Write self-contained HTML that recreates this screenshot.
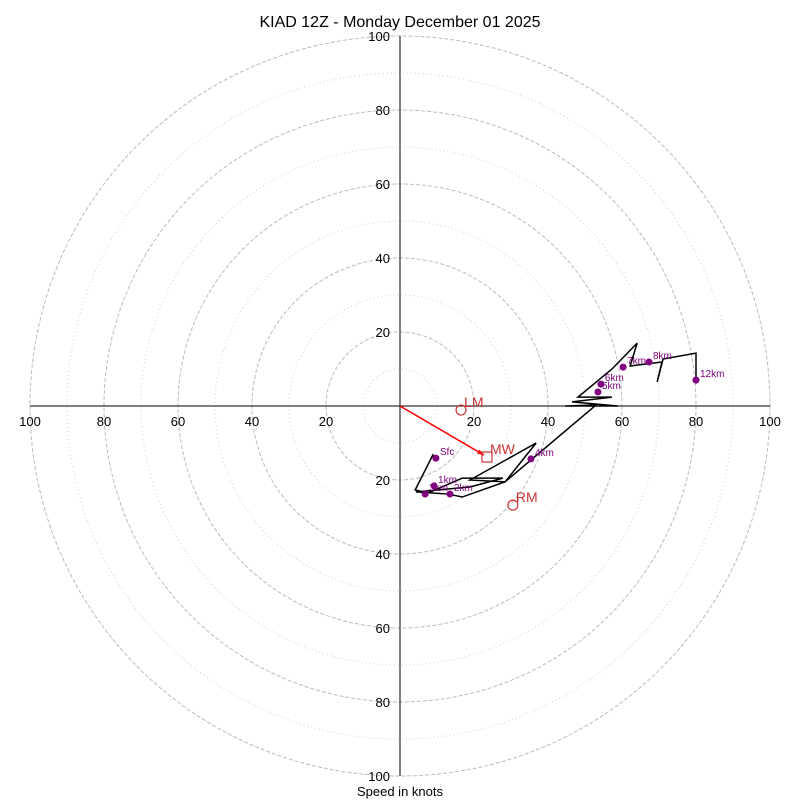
<!DOCTYPE html>
<html><head><meta charset="utf-8"><style>
body{margin:0;background:#fff}
svg{display:block;font-family:"Liberation Sans","DejaVu Sans",sans-serif}
</style></head><body>
<svg id="chart" width="800" height="800" viewBox="0 0 800 800">
<text x="400" y="27" font-size="16" text-anchor="middle">KIAD 12Z - Monday December 01 2025</text>
<g id="rings"></g>
<g id="axes"></g>
<g id="trace"></g>
<g id="marks"></g>
<text x="400" y="796" font-size="13" text-anchor="middle">Speed in knots</text>
</svg>
<script>
const traceU=[9.7,8.9,4.1,7.6,16.8,27.8,18.9,4.3,13.0,16.8,28.4,36.8,18.9,28.4,53.0,44.6,58.9,46.5,57.3,48.1,57.3,64.1,62.2,70.8,69.5,71.1,80.0,80.0];
const traceV=[-14.1,-13.2,-22.7,-23.5,-19.5,-19.5,-21.9,-23.2,-23.8,-24.6,-20.5,-10.0,-20.0,-20.5,0.3,0,0,1.1,2.4,2.4,10.0,17.0,10.8,11.9,6.5,12.7,14.3,7.0];
const dotLabels=["Sfc","1km","2km","3km","4km","5km","6km","7km","8km","12km"];
const dotU=[9.7,9.2,13.5,6.8,35.4,53.5,54.3,60.3,67.3,80.0];
const dotV=[-14.1,-21.6,-23.8,-23.8,-14.3,3.8,5.9,10.5,11.9,7.0];
const stormNames=["LM","MW","RM"];
const stormU=[16.5,23.5,30.5];
const stormV=[-1.1,-13.8,-26.8];
const ringTicks=[20,40,60,80,100];
const minorRings=[10,30,50,70,90];

const NS="http://www.w3.org/2000/svg";
const cx=400,cy=406,k=3.7;
const X=u=>cx+u*k, Y=v=>cy-v*k;
function el(t,a,p){const e=document.createElementNS(NS,t);for(const n in a)e.setAttribute(n,a[n]);p.appendChild(e);return e;}
const rings=document.getElementById('rings'),axes=document.getElementById('axes'),trace=document.getElementById('trace'),marks=document.getElementById('marks');
minorRings.forEach(r=>{const c=el('circle',{cx,cy,r:r*k,fill:'none',stroke:'#ccc','stroke-width':1,'stroke-dasharray':'1,3'},rings);

});
ringTicks.forEach(r=>{const c=el('circle',{cx,cy,r:r*k,fill:'none',stroke:'#bbb','stroke-width':1,'stroke-dasharray':'4,2'},rings);

});
const xl=el('line',{x1:X(-100),y1:cy,x2:X(100),y2:cy,stroke:'#000','stroke-width':1},axes);


const yl=el('line',{x1:cx,y1:Y(100),x2:cx,y2:Y(-100),stroke:'#000','stroke-width':1},axes);


ringTicks.forEach(r=>{[-1,1].forEach(s=>{
 const t=el('text',{x:X(s*r),y:cy+20,'font-size':13,'text-anchor':'middle'},axes);t.textContent=r;
 
 
 const t2=el('text',{x:cx-10,y:Y(s*r)+5,'font-size':13,'text-anchor':'end'},axes);t2.textContent=r;
 
 
});});
const pts=traceU.map((u,i)=>X(u)+','+Y(traceV[i])).join(' ');
const pl=el('polyline',{points:pts,fill:'none',stroke:'#000','stroke-width':1.5,'stroke-linejoin':'miter'},trace);


dotU.forEach((u,i)=>{
 const c=el('circle',{cx:X(u),cy:Y(dotV[i]),r:3.5,fill:'purple'},marks);
 
 
 const t=el('text',{x:X(u)+4,y:Y(dotV[i])-3,'font-size':10,fill:'purple'},marks);t.textContent=dotLabels[i];
 
 
});
// storm motion arrow to MW
const ar=el('line',{x1:cx,y1:cy,x2:X(stormU[1])-3,y2:Y(stormV[1])-2,stroke:'red','stroke-width':1.5},marks);


const ang=Math.atan2(Y(stormV[1])-cy,X(stormU[1])-cx);
const hx=X(stormU[1])-3,hy=Y(stormV[1])-2;
const ah=el('polygon',{points:`${hx},${hy} ${hx-7*Math.cos(ang-0.35)},${hy-7*Math.sin(ang-0.35)} ${hx-7*Math.cos(ang+0.35)},${hy-7*Math.sin(ang+0.35)}`,fill:'red'},marks);


stormNames.forEach((n,i)=>{
 const x=X(stormU[i]),y=Y(stormV[i]);
 let m;
 if(n==='MW')m=el('rect',{x:x-5,y:y-5,width:10,height:10,fill:'none',stroke:'#c33','stroke-width':1.2},marks);
 else m=el('circle',{cx:x,cy:y,r:5,fill:'none',stroke:'#c33','stroke-width':1.2},marks);
 
 
 const t=el('text',{x:x+3,y:y-3,'font-size':14,fill:'#c33'},marks);t.textContent=n;
 
 
});
</script>
</body></html>
